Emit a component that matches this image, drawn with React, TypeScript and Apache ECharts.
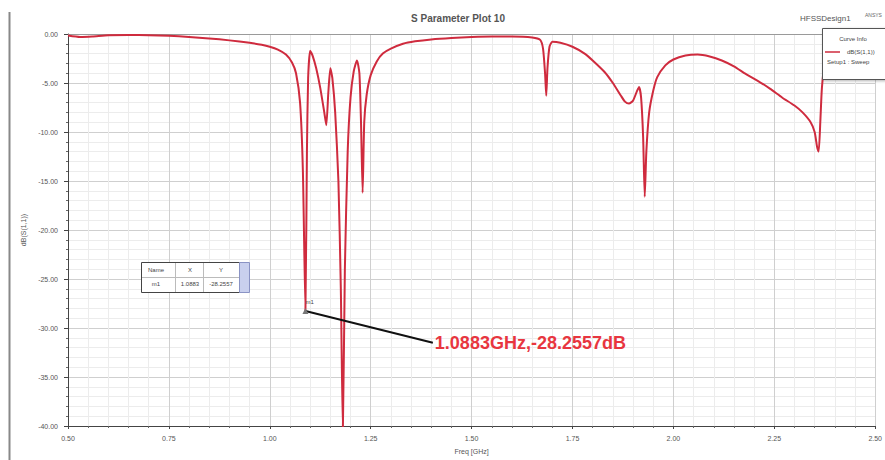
import React, { useEffect, useRef } from "react";
import * as echarts from "echarts";

const freqGHz = [
  0.5, 0.53, 0.56, 0.6, 0.65, 0.7, 0.75, 0.8, 0.85, 0.9, 0.95, 0.98, 1.0, 1.02, 1.04, 1.055,
  1.065, 1.075, 1.082, 1.0883, 1.092, 1.095, 1.1, 1.106, 1.115, 1.125, 1.135, 1.14, 1.145,
  1.15, 1.155, 1.162, 1.17, 1.176, 1.181, 1.186, 1.193, 1.2, 1.208, 1.216, 1.222, 1.226,
  1.23, 1.234, 1.24, 1.25, 1.265, 1.28, 1.3, 1.33, 1.36, 1.4, 1.45, 1.5, 1.55, 1.6, 1.65,
  1.67, 1.677, 1.682, 1.685, 1.688, 1.693, 1.7, 1.72, 1.75, 1.78, 1.8, 1.83, 1.85, 1.87,
  1.88, 1.89, 1.9, 1.91, 1.915, 1.92, 1.925, 1.929, 1.933, 1.94, 1.95, 1.96, 1.98, 2.0,
  2.03, 2.06, 2.09, 2.12, 2.15, 2.18, 2.21, 2.24, 2.27, 2.3, 2.32, 2.34, 2.35, 2.356, 2.36,
  2.364, 2.368, 2.375, 2.39, 2.42, 2.46, 2.5,
];
const s11dB = [
  -0.15, -0.3, -0.25, -0.12, -0.1, -0.12, -0.18, -0.3, -0.45, -0.65, -0.9, -1.1, -1.3, -1.6,
  -2.1, -2.9, -4.0, -7.0, -14.0, -28.2557, -12.0, -4.5, -1.7, -2.2, -3.5, -5.5, -8.0, -9.3,
  -6.0, -3.5, -4.5, -8.0, -15.0, -26.0, -40.5, -24.0, -12.0, -6.5, -3.8, -2.7, -4.0, -9.0,
  -16.2, -9.0, -6.2, -4.2, -2.8, -2.0, -1.5, -1.0, -0.75, -0.55, -0.4, -0.3, -0.25, -0.25,
  -0.35, -0.6, -1.5, -4.0, -6.3, -3.5, -1.3, -0.8, -0.9, -1.3, -2.0, -2.7, -3.9, -5.0, -6.3,
  -6.9, -7.1, -6.8, -5.8, -5.4, -6.5, -10.5, -16.6, -12.0, -8.0, -5.8, -4.4, -3.2, -2.6,
  -2.2, -2.1, -2.3, -2.7, -3.3, -4.1, -4.8, -5.6, -6.5, -7.3, -8.0, -9.0, -10.0, -11.5,
  -12.0, -9.0, -5.5, -3.0, -1.8, -1.2, -1.0, -1.0,
];

const markerName = "m1";
const markerX = 1.0883;
const markerY = -28.2557;
const annotationText = "1.0883GHz,-28.2557dB";
const annotationAnchor = [1.404, -31.5];

const FONT = "Liberation Sans, Arial, sans-serif";
const Z = 100;

export default function App() {
  const ref = useRef<HTMLDivElement>(null);
  useEffect(() => {
    if (!ref.current) return;
    const chart = echarts.init(ref.current, null, { renderer: "svg" });
    const data = freqGHz.map((f, i) => [f, s11dB[i]]);
    const txt = (x: number, y: number, text: string, align = "left") => ({
      type: "text",
      x,
      y,
      z: Z + 1,
      style: { text, fontSize: 6, fill: "#444", fontFamily: FONT, align, verticalAlign: "middle" },
    });
    chart.setOption({
      animation: false,
      backgroundColor: "#ffffff",
      grid: { left: 68, right: 5, top: 34, bottom: 27 },
      xAxis: [
        {
          type: "value",
          min: 0.5,
          max: 2.5,
          interval: 0.25,
          name: "Freq [GHz]",
          nameLocation: "middle",
          nameGap: 22,
          nameTextStyle: { fontSize: 7, color: "#555", fontFamily: FONT },
          axisLine: { show: true, onZero: false, lineStyle: { color: "#444", width: 1 } },
          axisTick: { show: true, length: 3, lineStyle: { color: "#444" } },
          minorTick: { show: true, splitNumber: 5, length: 2, lineStyle: { color: "#666" } },
          axisLabel: {
            fontSize: 7,
            color: "#555",
            fontFamily: FONT,
            margin: 9,
            formatter: (v: number) => v.toFixed(2),
          },
          splitLine: { show: true, lineStyle: { color: "#cfcfcf", width: 1 } },
          minorSplitLine: { show: true, lineStyle: { color: "#ececec", width: 1 } },
        },
        {
          type: "value",
          position: "top",
          min: 0.5,
          max: 2.5,
          axisLine: { show: true, lineStyle: { color: "#9a9a9a", width: 1 } },
          axisTick: { show: false },
          axisLabel: { show: false },
          splitLine: { show: false },
        },
      ],
      yAxis: {
        type: "value",
        min: -40,
        max: 0,
        interval: 5,
        name: "dB(S(1,1))",
        nameLocation: "middle",
        nameGap: 40,
        nameTextStyle: { fontSize: 7, color: "#555", fontFamily: FONT },
        axisLine: { show: true, lineStyle: { color: "#444", width: 1 } },
        axisTick: { show: true, length: 4, lineStyle: { color: "#444" } },
        minorTick: { show: true, splitNumber: 5, length: 2, lineStyle: { color: "#666" } },
        axisLabel: {
          fontSize: 7,
          color: "#555",
          fontFamily: FONT,
          margin: 10,
          formatter: (v: number) => v.toFixed(2),
        },
        splitLine: { show: true, lineStyle: { color: "#cfcfcf", width: 1 } },
        minorSplitLine: { show: true, lineStyle: { color: "#ececec", width: 1 } },
      },
      title: {
        text: "S Parameter Plot 10",
        left: 453,
        top: 8,
        textAlign: "center",
        textStyle: { fontSize: 10, fontWeight: "bold", color: "#555", fontFamily: FONT },
      },
      series: [
        {
          name: "dB(S(1,1))",
          type: "line",
          data,
          showSymbol: false,
          smooth: 0.2,
          lineStyle: { color: "#cf2b3e", width: 2 },
          itemStyle: { color: "#cf2b3e" },
          z: 3,
          markLine: {
            silent: true,
            symbol: ["none", "arrow"],
            symbolSize: [0, 14],
            lineStyle: { color: "#111", width: 2, type: "solid" },
            itemStyle: { color: "#111" },
            label: { show: false },
            data: [[{ coord: [markerX, markerY] }, { coord: annotationAnchor }]],
          },
          markPoint: {
            silent: true,
            data: [
              {
                coord: [markerX, markerY],
                symbol: "triangle",
                symbolSize: 6,
                itemStyle: { color: "#777" },
                label: {
                  show: true,
                  formatter: markerName,
                  position: [3, -9],
                  fontSize: 6,
                  color: "#444",
                  fontFamily: FONT,
                },
              },
              {
                coord: annotationAnchor,
                symbol: "circle",
                symbolSize: 0,
                label: {
                  show: true,
                  formatter: annotationText,
                  position: "right",
                  distance: 2,
                  fontSize: 18,
                  fontWeight: "bold",
                  color: "#e8363f",
                  fontFamily: FONT,
                },
              },
            ],
          },
        },
      ],
      graphic: [
        { type: "line", z: Z, shape: { x1: 9.5, y1: 12, x2: 9.5, y2: 460 }, style: { stroke: "#888", lineWidth: 2 } },
        {
          type: "text",
          z: Z,
          x: 800,
          y: 18,
          style: { text: "HFSSDesign1", fontSize: 8, fill: "#555", fontFamily: FONT, verticalAlign: "middle" },
        },
        {
          type: "text",
          z: Z,
          x: 865,
          y: 15,
          style: { text: "ANSYS", fontSize: 5, fill: "#666", fontFamily: FONT, verticalAlign: "middle" },
        },
        {
          type: "rect",
          z: Z,
          shape: { x: 822.5, y: 28.5, width: 66, height: 51 },
          style: { fill: "#ffffff", stroke: "#555", lineWidth: 1, shadowBlur: 3, shadowColor: "rgba(0,0,0,0.3)", shadowOffsetX: 1, shadowOffsetY: 1 },
        },
        txt(853, 39, "Curve Info", "center"),
        { type: "line", z: Z + 1, shape: { x1: 825, y1: 52, x2: 840, y2: 52 }, style: { stroke: "#cf2b3e", lineWidth: 1.5 } },
        txt(847, 52, "dB(S(1,1))"),
        txt(827, 62, "Setup1 : Sweep"),
        { type: "rect", z: Z, shape: { x: 141.5, y: 262.5, width: 98, height: 30 }, style: { fill: "#ffffff", stroke: "#444", lineWidth: 1 } },
        { type: "rect", z: Z, shape: { x: 239.5, y: 262.5, width: 10, height: 30 }, style: { fill: "#c9d0ee", stroke: "#8a93c4", lineWidth: 1 } },
        { type: "line", z: Z + 1, shape: { x1: 142, y1: 277.5, x2: 239, y2: 277.5 }, style: { stroke: "#bbb", lineWidth: 1 } },
        { type: "line", z: Z + 1, shape: { x1: 175.5, y1: 263, x2: 175.5, y2: 292 }, style: { stroke: "#bbb", lineWidth: 1 } },
        { type: "line", z: Z + 1, shape: { x1: 203.5, y1: 263, x2: 203.5, y2: 292 }, style: { stroke: "#bbb", lineWidth: 1 } },
        txt(156, 270, "Name", "center"),
        txt(190, 270, "X", "center"),
        txt(221, 270, "Y", "center"),
        txt(156, 284, markerName, "center"),
        txt(190, 284, markerX.toFixed(4), "center"),
        txt(221, 284, markerY.toFixed(4), "center"),
      ],
    });
    return () => chart.dispose();
  }, []);
  return <div ref={ref} style={{ width: 885, height: 460, position: "fixed", left: 0, top: 0 }} />;
}
